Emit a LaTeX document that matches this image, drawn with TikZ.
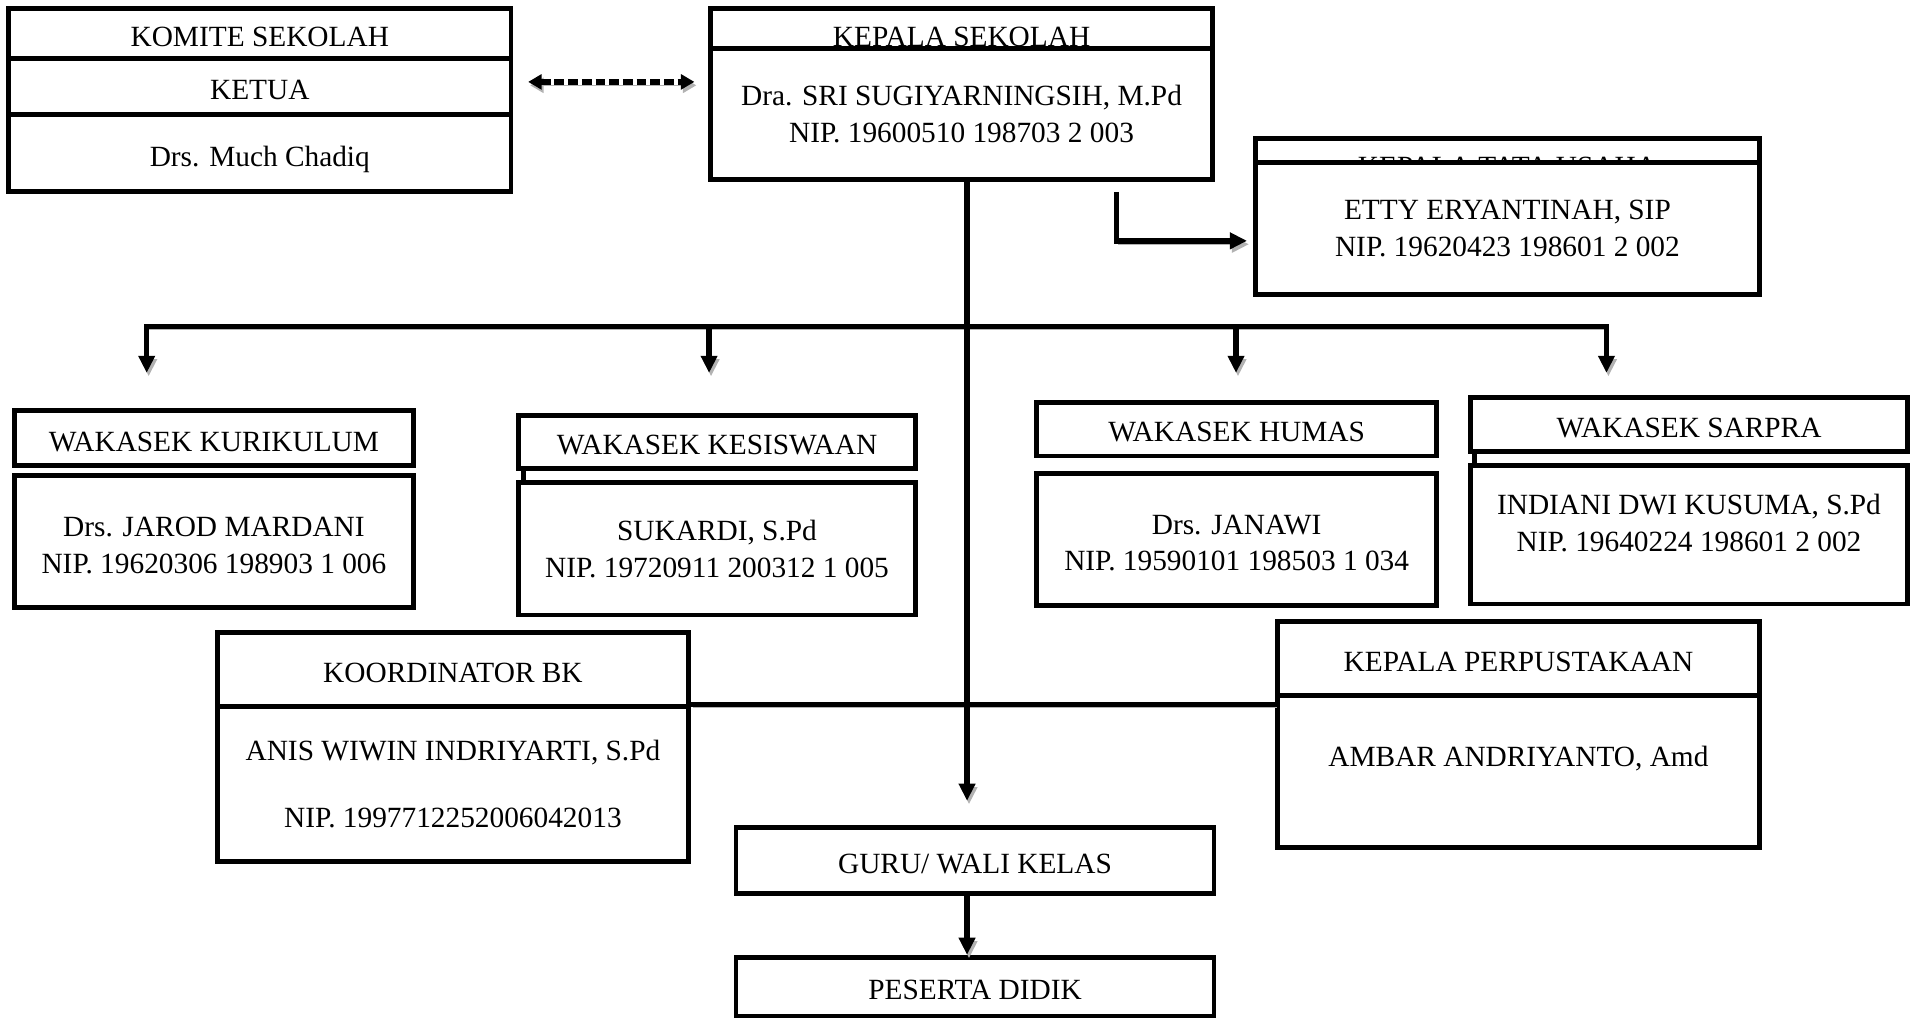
\documentclass[tikz,border=0pt]{standalone}
\usepackage{fontspec}
\setmainfont{Liberation Serif}
\usetikzlibrary{arrows.meta}

\tikzset{
  box/.style 2 args={draw, line width=2pt, fill=white, align=center, inner sep=0pt,
    minimum width=#1, minimum height=#2, font=\fontsize{12}{15}\selectfont},
  one/.style={text height=10.5pt, text depth=0pt},
  line/.style={line width=2.2pt, preaction={draw=black!30, transform canvas={xshift=0.8pt, yshift=-1.4pt}}},
  link/.style={line, -{Triangle[width=6.5pt,length=7pt]}},
  dash link/.style={line width=2.5pt, dash pattern=on 4pt off 1.6pt,
    preaction={draw=black!30, transform canvas={xshift=0.8pt, yshift=-1.4pt}},
    {Triangle[width=6pt,length=5.5pt]}-{Triangle[width=6pt,length=5.5pt]}},
}

\begin{document}
\begin{tikzpicture}[x=0.5pt, y=-0.5pt]
  \useasboundingbox (0,0) rectangle (1568,833);

  % komite and kepala sekolah
  \node[box={205.5pt}{20.5pt}, one] (komite) at (212.5,27.5) {KOMITE SEKOLAH};
  \node[box={205.5pt}{23pt}, one] (ketua) at (212.5,71) {KETUA};
  \node[box={205.5pt}{31.5pt}, one] (komitebody) at (212.5,125.5) {Drs. Much Chadiq};
  \node[box={205.5pt}{16.5pt}, text height=14.5pt, text depth=0pt] (kepsek) at (786.5,23.5) {KEPALA SEKOLAH};
  \node[box={205.5pt}{53.5pt}] (kepsekbody) at (786.5,93.5) {Dra. SRI SUGIYARNINGSIH, M.Pd\\NIP. 19600510 198703 2 003};

  % tata usaha
  \node[box={206pt}{10pt}, text height=0pt, text depth=0pt] (tu) at (1233,123) {\raisebox{-10.5pt}{KEPALA TATA USAHA}};
  \node[box={206pt}{54pt}] (tubody) at (1233,187) {ETTY ERYANTINAH, SIP\\NIP. 19620423 198601 2 002};

  % wakasek
  \node[box={163pt}{22.5pt}, one] (kurikulum) at (175,358.5) {WAKASEK KURIKULUM};
  \node[box={163pt}{54pt}] (kurikulumbody) at (175,443) {\mbox{}\\[-4pt]Drs. JAROD MARDANI\\NIP. 19620306 198903 1 006};
  \node[box={162.5pt}{21.5pt}, one] (kesiswaan) at (586.5,361.5) {WAKASEK KESISWAAN};
  \node[box={162.5pt}{54pt}] (kesiswaanbody) at (586.5,449) {SUKARDI, S.Pd\\NIP. 19720911 200312 1 005};
  \node[box={163.5pt}{22pt}, one] (humas) at (1011.5,351) {WAKASEK HUMAS};
  \node[box={163.5pt}{54pt}] (humasbody) at (1011.5,441) {\mbox{}\\[-4pt]Drs. JANAWI\\NIP. 19590101 198503 1 034};
  \node[box={178.5pt}{22pt}, one] (sarpra) at (1381.5,347) {WAKASEK SARPRA};
  \node[box={178.5pt}{56.5pt}] (sarprabody) at (1381.5,437.5) {INDIANI DWI KUSUMA, S.Pd\\NIP. 19640224 198601 2 002\\[-5pt]\mbox{}};

  % bk, perpustakaan, guru, siswa
  \node[box={192.5pt}{30.5pt}, one] (bk) at (370.5,547.5) {KOORDINATOR BK};
  \node[box={192.5pt}{63.5pt}] (bkbody) at (370.5,641.5) {ANIS WIWIN INDRIYARTI, S.Pd\\[12.5pt]NIP. 1997712252006042013};
  \node[box={197pt}{30.5pt}, one] (perpus) at (1242,538.5) {KEPALA PERPUSTAKAAN};
  \node[box={197pt}{62pt}, text height=0pt, text depth=4pt] (perpusbody) at (1242,631) {AMBAR ANDRIYANTO, Amd};
  \node[box={195.5pt}{27pt}, one] (guru) at (797.5,704) {GURU/ WALI KELAS};
  \node[box={195.5pt}{24pt}, one] (siswa) at (797.5,807) {PESERTA DIDIK};

  \coordinate (spine) at ([xshift=2.25pt]kepsekbody.south);
  \coordinate (busL) at (120,267);
  \coordinate (bus2) at (580,267);
  \coordinate (bus3) at (1011,267);
  \coordinate (busR) at (1314,267);
  \coordinate (tips) at (0,305);

  \draw[dash link, shorten <=6pt, shorten >=5.5pt] ([yshift=2pt]ketua.east) -- ([yshift=2pt]ketua.east -| kepsekbody.west);
  \draw[link, shorten >=2.5pt] ([xshift=63.25pt, yshift=-4pt]kepsekbody.south) |- ([yshift=-5pt]tubody.west);
  \draw[link, {Triangle[width=6.5pt,length=7pt]}-{Triangle[width=6.5pt,length=7pt]}] (busL |- tips) -- (busL) -- (busR) -- (busR |- tips);
  \foreach \c in {bus2, bus3}
    \draw[link] (\c) -- (\c |- tips);
  \draw[line] (bkbody.north east) -- (bkbody.north east -| perpusbody.west);
  \draw[link, shorten >=10pt] (spine) -- (spine |- guru.north);
  \draw[link] (guru.south -| spine) -- (siswa.north -| spine);
  \draw[line width=2pt] ([xshift=3pt]kesiswaan.south west) -- ([xshift=3pt]kesiswaanbody.north west);
  \draw[line width=2pt] ([xshift=2.5pt]sarpra.south west) -- ([xshift=2.5pt]sarprabody.north west);
\end{tikzpicture}
\end{document}
